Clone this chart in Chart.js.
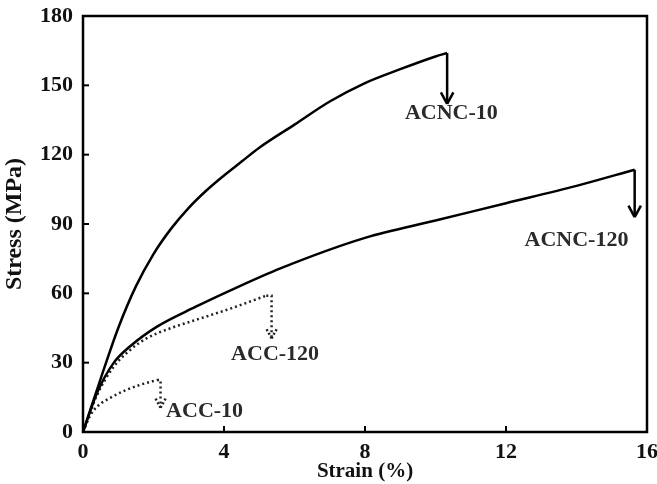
<!DOCTYPE html>
<html>
<head>
<meta charset="utf-8">
<script src="https://cdn.jsdelivr.net/npm/chart.js@4/dist/chart.umd.min.js"></script>
<style>
html,body{margin:0;padding:0;background:#fff;}
#wrap{width:657px;height:484px;}
</style>
</head>
<body>
<div id="wrap"><canvas id="c" width="657" height="484"></canvas></div>
<script>
// ---- data (strain %, stress MPa) ----
const strainACNC10 = [0, 0.5, 1, 1.5, 2, 2.5, 3, 3.5, 4, 4.5, 5, 6, 7, 8, 9, 10, 10.33];
const stressACNC10 = [0, 23, 45, 63, 77, 88, 97, 104.5, 111, 117, 123, 133, 143, 151, 157, 162.5, 164];
const strainACNC120 = [0, 0.4, 0.86, 1.33, 2.1, 3.2, 4.2, 5.6, 8, 10, 12, 14, 15.65];
const stressACNC120 = [0, 17, 29.7, 37, 45.6, 54.2, 61.4, 70.8, 84, 91.5, 99, 106.5, 113.5];
const strainACC120 = [0, 0.4, 0.86, 1.3, 1.8, 2.5, 3.2, 4.2, 5.2];
const stressACC120 = [0, 16, 28, 35, 40.5, 45, 48.5, 53.5, 59];
const strainACC10 = [0, 0.2, 0.4, 0.8, 1.2, 1.6, 2.1];
const stressACC10 = [0, 7, 11, 15, 18, 20.3, 22.5];

// arrows: [corner strain, corner stress, tip stress]
const arrowACNC10 = [10.33, 164, 142];
const arrowACNC120 = [15.65, 113.5, 93];
const arrowACC120 = [5.35, 59, 40.5];
const arrowACC10 = [2.2, 22.5, 10.5];

const xTicks = [0, 4, 8, 12, 16];
const yTicks = [0, 30, 60, 90, 120, 150, 180];
const labelNames = ['ACNC-10', 'ACNC-120', 'ACC-120', 'ACC-10'];
const labelStrain = [10.45, 14.0, 5.45, 3.45];
const labelStress = [138, 83, 33.5, 9];

const pts = (xs, ys) => xs.map((x, i) => ({x, y: ys[i]}));
const arrowPts = (xs, ys, a) => {
  const last = {x: xs[xs.length - 1], y: ys[ys.length - 1]};
  return [last, {x: a[0], y: a[1]}, {x: a[0], y: a[2]}];
};

const FONT = '"Liberation Serif", "Times New Roman", serif';
const solid = {borderColor: '#000', borderWidth: 2.5, pointRadius: 0, fill: false};
const dotted = {borderColor: '#222', borderWidth: 2.5, borderDash: [2, 3], pointRadius: 0, fill: false};

const datasets = [
  Object.assign({label: 'ACNC-10', data: pts(strainACNC10, stressACNC10), tension: 0.4, cubicInterpolationMode: 'monotone'}, solid),
  Object.assign({label: 'ACNC-120', data: pts(strainACNC120, stressACNC120), tension: 0.4, cubicInterpolationMode: 'monotone'}, solid),
  Object.assign({label: 'ACC-120', data: pts(strainACC120, stressACC120), tension: 0.4, cubicInterpolationMode: 'monotone'}, dotted),
  Object.assign({label: 'ACC-10', data: pts(strainACC10, stressACC10), tension: 0.4, cubicInterpolationMode: 'monotone'}, dotted),
  Object.assign({label: 'a1', arrow: true, data: arrowPts(strainACNC10, stressACNC10, arrowACNC10), tension: 0}, solid),
  Object.assign({label: 'a2', arrow: true, data: arrowPts(strainACNC120, stressACNC120, arrowACNC120), tension: 0}, solid),
  Object.assign({label: 'a3', arrow: true, data: arrowPts(strainACC120, stressACC120, arrowACC120), tension: 0}, dotted),
  Object.assign({label: 'a4', arrow: true, data: arrowPts(strainACC10, stressACC10, arrowACC10), tension: 0}, dotted),
];

const decor = {
  id: 'decor',
  afterDatasetsDraw(chart) {
    const {ctx, chartArea: a, scales: {x, y}} = chart;
    ctx.save();
    // arrowheads
    chart.data.datasets.forEach((ds) => {
      if (!ds.arrow) return;
      const n = ds.data.length;
      const p1 = ds.data[n - 2], p2 = ds.data[n - 1];
      const x1 = x.getPixelForValue(p1.x), y1 = y.getPixelForValue(p1.y);
      const x2 = x.getPixelForValue(p2.x), y2 = y.getPixelForValue(p2.y);
      const ang = Math.atan2(y2 - y1, x2 - x1);
      const L = ds.borderDash ? 11 : 13, h = 0.5;
      ctx.strokeStyle = ds.borderColor;
      ctx.lineWidth = ds.borderWidth;
      ctx.setLineDash(ds.borderDash ? [2, 2.2] : []);
      [ang - h, ang + h].forEach(t => {
        ctx.beginPath();
        ctx.moveTo(x2, y2);
        ctx.lineTo(x2 - L * Math.cos(t), y2 - L * Math.sin(t));
        ctx.stroke();
      });
    });
    ctx.setLineDash([]);
    // frame
    ctx.strokeStyle = '#000';
    ctx.lineWidth = 2.5;
    ctx.strokeRect(a.left, a.top, a.right - a.left, a.bottom - a.top);
    // inward ticks
    ctx.lineWidth = 2;
    xTicks.forEach(v => {
      const px = x.getPixelForValue(v);
      ctx.beginPath(); ctx.moveTo(px, a.bottom); ctx.lineTo(px, a.bottom - 6); ctx.stroke();
    });
    yTicks.forEach(v => {
      const py = y.getPixelForValue(v);
      ctx.beginPath(); ctx.moveTo(a.left, py); ctx.lineTo(a.left + 6, py); ctx.stroke();
    });
    // labels
    ctx.fillStyle = '#2a2a2a';
    ctx.font = 'bold 22px ' + FONT;
    ctx.textAlign = 'center';
    ctx.textBaseline = 'middle';
    labelNames.forEach((t, i) => {
      ctx.fillText(t, x.getPixelForValue(labelStrain[i]), y.getPixelForValue(labelStress[i]));
    });
    ctx.restore();
  }
};

new Chart(document.getElementById('c'), {
  type: 'line',
  data: {datasets},
  plugins: [decor],
  options: {
    responsive: false,
    animation: false,
    layout: {padding: {top: 4, right: 0, left: 0, bottom: 0}},
    plugins: {legend: {display: false}, tooltip: {enabled: false}},
    scales: {
      x: {
        type: 'linear', min: 0, max: 16,
        afterBuildTicks: s => { s.ticks = xTicks.map(v => ({value: v})); },
        afterFit: s => { s.height = 52; s.paddingRight = 10; },
        grid: {display: false, drawTicks: false},
        border: {display: false},
        ticks: {color: '#111', padding: 7, font: {family: FONT, size: 22, weight: 'bold'}},
        title: {display: true, text: 'Strain (%)', color: '#111', padding: {top: -7, bottom: 0}, font: {family: FONT, size: 21, weight: 'bold'}}
      },
      y: {
        type: 'linear', min: 0, max: 180,
        afterBuildTicks: s => { s.ticks = yTicks.map(v => ({value: v})); },
        afterFit: s => { s.width = 83; s.paddingTop = 16; },
        grid: {display: false, drawTicks: false},
        border: {display: false},
        ticks: {color: '#111', padding: 10, font: {family: FONT, size: 22, weight: 'bold'}},
        title: {display: true, text: 'Stress (MPa)', color: '#111', padding: {top: 0, bottom: 2}, font: {family: FONT, size: 24, weight: 'bold'}}
      }
    }
  }
});
</script>
</body>
</html>
